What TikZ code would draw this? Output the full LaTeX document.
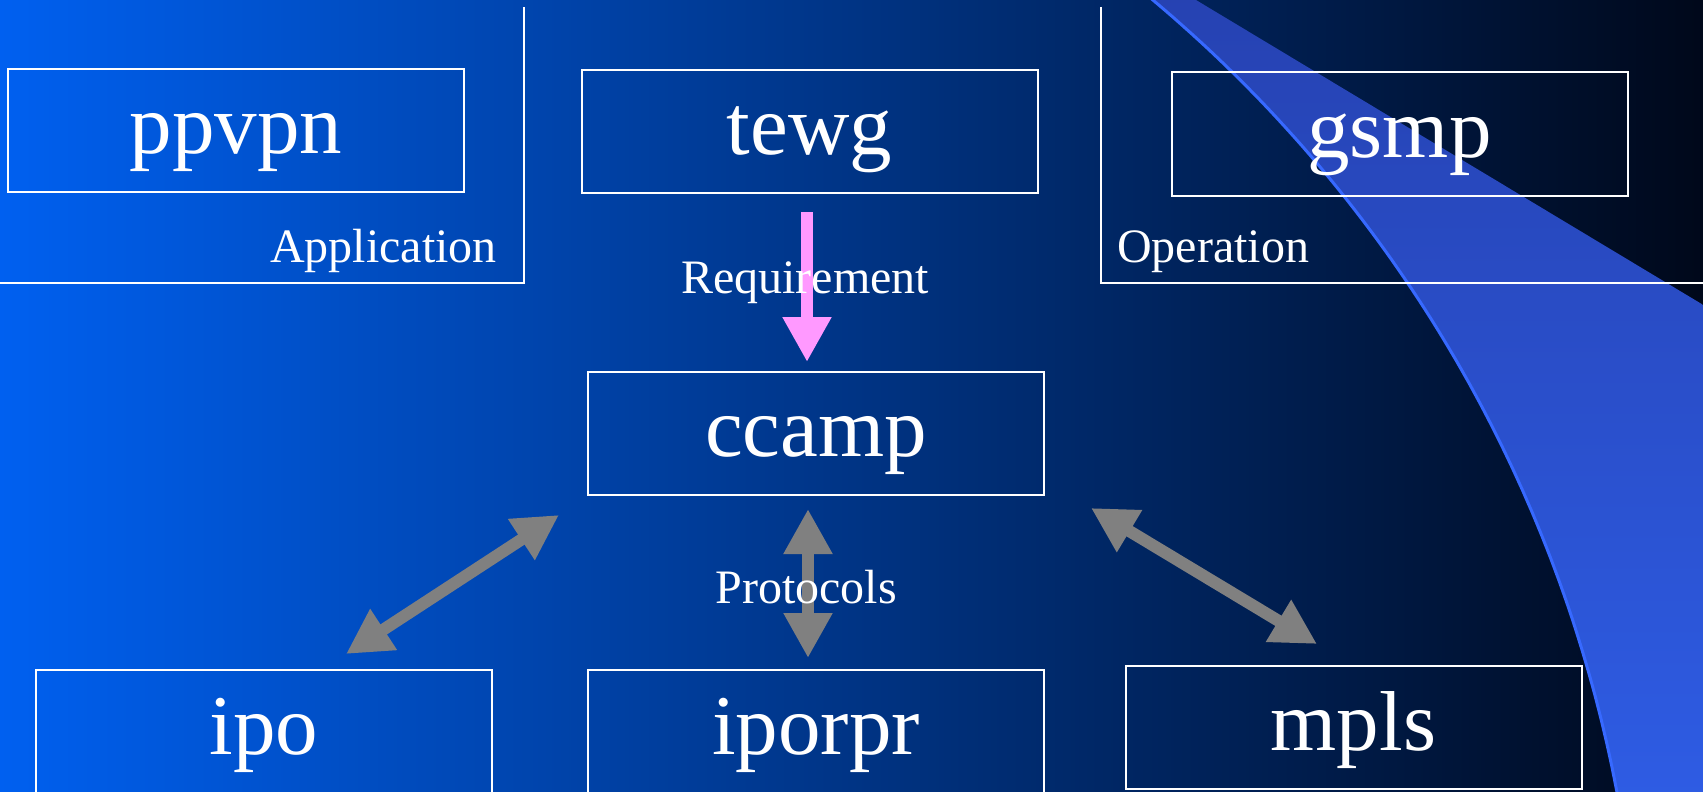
\documentclass[tikz,border=0pt]{standalone}
\usepackage{fontspec}
\setmainfont{Liberation Serif}
\usetikzlibrary{arrows.meta}
\definecolor{bgL}{RGB}{0,96,240}
\definecolor{bgM}{RGB}{0,62,165}
\definecolor{bgR}{RGB}{0,8,26}
\definecolor{bandT}{RGB}{38,66,178}
\definecolor{bandB}{RGB}{46,92,228}
\definecolor{bandLine}{RGB}{55,105,255}
\definecolor{arrGray}{RGB}{128,128,128}
\definecolor{arrPink}{RGB}{255,153,255}
\tikzset{
  wgbox/.style={draw=white, line width=2pt, minimum width=456pt, minimum height=123pt,
    inner sep=0pt, text=white, font=\fontsize{85}{90}\selectfont, text height=63pt, text depth=17pt},
  smalllabel/.style={text=white, font=\fontsize{48}{52}\selectfont, inner sep=0pt},
  frameline/.style={draw=white, line width=2pt},
  grayarrow/.style={draw=arrGray, line width=12pt, {Triangle[length=45pt,width=46pt]}-{Triangle[length=45pt,width=46pt]}},
  pinkarrow/.style={draw=arrPink, line width=12pt, -{Triangle[length=45pt,width=46pt]}}
}
\begin{document}
\begin{tikzpicture}[x=1pt,y=-1pt]
\useasboundingbox (0,0) rectangle (1703,792);
\clip (0,0) rectangle (1703,792);
% background
\shade[left color=bgL, middle color=bgM, right color=bgR] (0,0) rectangle (1703,792);
% swoosh band (circular arc edge)
\shade[top color=bandT, bottom color=bandB]
  plot[domain=-50.4:-10.3, samples=80] ({275.5+1365.3*cos(\x)}, {1046+1365.3*sin(\x)})
  -- (1710,800) -- (1710,309) -- (1196,0) -- (1150,-5) -- cycle;
\draw[bandLine, line width=3pt]
  plot[domain=-50.4:-10.3, samples=80] ({275.5+1365.3*cos(\x)}, {1046+1365.3*sin(\x)});
% frame lines
\draw[frameline] (0,283) -- (524,283) -- (524,7);
\draw[frameline] (1101,7) -- (1101,283) -- (1710,283);
% boxes
\node[wgbox] (ppvpn) at (236,130.5) {ppvpn};
\node[wgbox] (tewg) at (809.5,131.5) {tewg};
\node[wgbox] (gsmp) at (1399.5,134) {gsmp};
\node[wgbox] (ccamp) at (816,433.5) {ccamp};
\node[wgbox] (ipo) at (264,731.5) {ipo};
\node[wgbox] (iporpr) at (816,731.5) {iporpr};
\node[wgbox] (mpls) at (1353.5,727.5) {mpls};
% section labels
\node[smalllabel, anchor=base west] (app) at (270,262) {Application};
\node[smalllabel, anchor=base west] (oper) at (1117,262) {Operation};
% connector end points
\coordinate (reqA) at (807,212);
\coordinate (reqB) at (807,362);
\coordinate (proA) at (808,509);
\coordinate (proB) at (808,658);
\coordinate (ipoA) at (346,654);
\coordinate (ipoB) at (559,515);
\coordinate (mplsA) at (1091,508);
\coordinate (mplsB) at (1317,644);
% connectors
\draw[pinkarrow] (reqA) -- (reqB);
\draw[grayarrow] (proA) -- (proB);
\draw[grayarrow] (ipoA) -- (ipoB);
\draw[grayarrow] (mplsA) -- (mplsB);
% connector labels
\node[smalllabel, anchor=base] (reqlabel) at (805,293) {Requirement};
\node[smalllabel, anchor=base] (prolabel) at (806,603) {Protocols};
\end{tikzpicture}
\end{document}
